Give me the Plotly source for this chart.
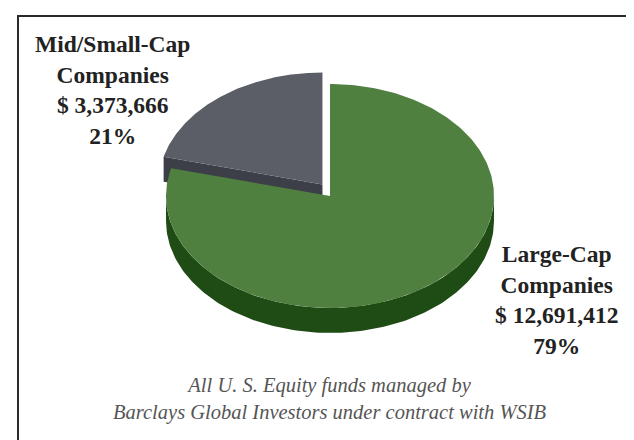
import numpy as np
import plotly.graph_objects as go

# ---- data ----
categories = ["Large-Cap Companies", "Mid/Small-Cap Companies"]
label_lines = ["Large-Cap<br>Companies", "Mid/Small-Cap<br>Companies"]
values = [12691412, 3373666]
footnote = ["All U. S. Equity funds managed by",
            "Barclays Global Investors under contract with WSIB"]

# ---- styling / geometry (pixel-like data space) ----
W, H = 634, 440
CX, CY = 322, 188      # centre of top face
RX, RY = 164, 112      # ellipse radii of top face
DEPTH = 25             # thickness of the 3D pie
EXPLODE_X = [0.0, 0.075]  # pull-out fraction of radius, horizontal
EXPLODE_Y = [0.0, 0.13]   # pull-out fraction of radius, vertical
top_colors = ["#50803f", "#5c5e67"]
side_colors = ["#1f4c14", "#3d3f48"]

total = float(sum(values))
fracs = [v / total for v in values]

# slice angle ranges (parametric degrees), clockwise from 12 o'clock
ranges = []
start = 90.0
for f in fracs:
    end = start - 360.0 * f
    ranges.append((start, end))
    start = end


def arc(cx, cy, t0, t1, n=160, dy=0.0):
    t = np.radians(np.linspace(t0, t1, n))
    return cx + RX * np.cos(t), cy - RY * np.sin(t) + dy


fig = go.Figure()


def add_poly(xs, ys, color, name, hover):
    fig.add_trace(go.Scatter(
        x=xs, y=ys, mode="lines", fill="toself", fillcolor=color,
        line=dict(width=0, color=color), name=name, hoverinfo="text",
        text=hover, hoveron="fills", showlegend=False))


# draw the exploded (small) slice first, as it sits behind the large one
for i in [1, 0]:
    t0, t1 = ranges[i]
    mid = np.radians((t0 + t1) / 2)
    cx = CX + EXPLODE_X[i] * RX * np.cos(mid)
    cy = CY - EXPLODE_Y[i] * RY * np.sin(mid)
    hover = f"{categories[i]}: $ {values[i]:,} ({fracs[i]*100:.0f}%)"
    # radial cut faces (slices run clockwise: normal at t0 is +90deg, at t1 is -90deg)
    for ta, sgn in ((t0, +1), (t1, -1)):
        a = np.radians(ta)
        na = a + sgn * np.pi / 2
        if np.sin(na) < -0.05:  # face points toward the viewer
            ex, ey = cx + RX * np.cos(a), cy - RY * np.sin(a)
            add_poly([cx, ex, ex, cx, cx], [cy, ey, ey + DEPTH, cy + DEPTH, cy],
                     side_colors[i], categories[i], hover)
    # outer wall: front-facing part (180..360 deg)
    lo, hi = min(t0, t1), max(t0, t1)
    seg_lo, seg_hi = max(lo, -180.0), min(hi, 0.0)
    if seg_hi > seg_lo:
        xa, ya = arc(cx, cy, seg_lo, seg_hi)
        xb, yb = arc(cx, cy, seg_hi, seg_lo, dy=DEPTH)
        add_poly(np.concatenate([xa, xb, xa[:1]]), np.concatenate([ya, yb, ya[:1]]),
                 side_colors[i], categories[i], hover)
    # top face
    xa, ya = arc(cx, cy, t0, t1, n=300)
    add_poly(np.concatenate([[cx], xa, [cx]]), np.concatenate([[cy], ya, [cy]]),
             top_colors[i], categories[i], hover)

label_font = dict(family="Liberation Serif, Times New Roman, serif", size=23.5, color="#222222")
label_pos = [(548, 292), (104, 82)]
annotations = []
for i in range(len(values)):
    txt = f"<b>{label_lines[i]}<br>$ {values[i]:,}<br>{fracs[i]*100:.0f}%</b>"
    annotations.append(dict(x=label_pos[i][0], y=label_pos[i][1], xref="x", yref="y",
                            text=txt, showarrow=False, align="center",
                            xanchor="center", yanchor="middle", font=label_font))
annotations.append(dict(x=322, y=391, xref="x", yref="y",
                        text="<i>" + "<br>".join(footnote) + "</i>",
                        showarrow=False, align="center", xanchor="center", yanchor="middle",
                        font=dict(family="Liberation Serif, Times New Roman, serif",
                                  size=20.5, color="#555555")))

fig.update_layout(
    width=W, height=H, margin=dict(l=0, r=0, t=0, b=0),
    paper_bgcolor="white", plot_bgcolor="white",
    xaxis=dict(range=[0, W], visible=False, fixedrange=True),
    yaxis=dict(range=[H, 0], visible=False, fixedrange=True),
    annotations=annotations,
    shapes=[
        dict(type="line", xref="paper", yref="paper", x0=9 / W, x1=1, y0=1 - 8 / H, y1=1 - 8 / H,
             line=dict(color="#2a2a2a", width=2)),
        dict(type="line", xref="paper", yref="paper", x0=10 / W, x1=10 / W, y0=0, y1=1 - 7 / H,
             line=dict(color="#2a2a2a", width=2)),
        dict(type="line", xref="paper", yref="paper", x0=628 / W, x1=628 / W, y0=0, y1=1 - 8 / H,
             line=dict(color="#e6e6e6", width=1)),
    ],
)

fig.write_html("out.html")
